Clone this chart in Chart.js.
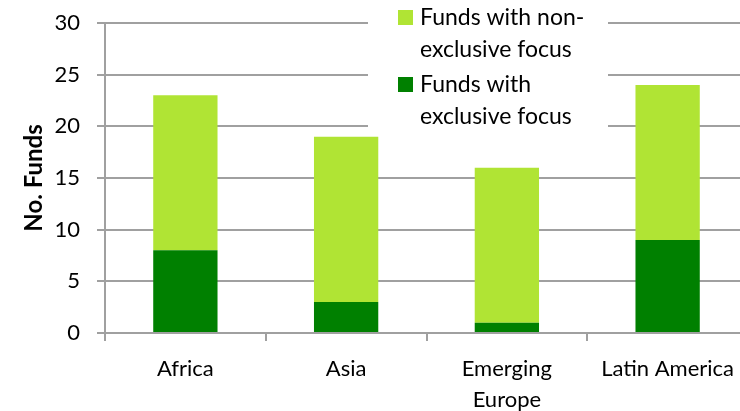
<!DOCTYPE html>
<html>
<head>
<meta charset="utf-8">
<script src="https://cdn.jsdelivr.net/npm/chart.js@4"></script>
<style>
  html, body { margin: 0; padding: 0; background: #fff; overflow: hidden; }
  #wrap { width: 760px; height: 411px; position: relative; }
</style>
</head>
<body>
<div id="wrap"><canvas id="funds"></canvas></div>
<script>
const regions = ['Africa', 'Asia', ['Emerging', 'Europe'], 'Latin America'];
const exclusive = [8, 3, 1, 9];
const nonExclusive = [15, 16, 15, 15];
const yTicks = [0, 5, 10, 15, 20, 25, 30];
// legend text is wrapped the same way as in the picture
const exclusiveLines = ['Funds with', 'exclusive focus'];
const nonExclusiveLines = ['Funds with non-', 'exclusive focus'];

const FONT = 'Lato, "Open Sans", sans-serif';
const GRID = '#a0a0a0';

function joinLines(lines) {
    return lines.join(' ').replace('- ', '-');
}

// legend boxed in white at the top right, drawn over the gridlines
const boxLegend = {
    id: 'boxLegend',
    afterDraw(chart) {
        const ctx = chart.ctx;
        ctx.save();
        ctx.fillStyle = '#fff';
        ctx.fillRect(368, 0, 240, 131);
        ctx.font = '23px ' + FONT;
        ctx.textBaseline = 'alphabetic';
        ctx.textAlign = 'left';
        const items = chart.data.datasets.slice().reverse();
        items.forEach((ds, i) => {
            const top = 10 + i * 67;
            ctx.fillStyle = ds.backgroundColor;
            ctx.fillRect(398, top, 15, 15);
            ctx.fillStyle = '#000';
            ds.legendLines.forEach((line, j) => {
                ctx.fillText(line, 420, top + 15 + j * 32);
            });
        });
        ctx.restore();
    }
};

new Chart(document.getElementById('funds'), {
    type: 'bar',
    data: {
        labels: regions,
        datasets: [
            {
                label: joinLines(exclusiveLines),
                legendLines: exclusiveLines,
                data: exclusive,
                backgroundColor: '#008000',
                barPercentage: 0.4,
                categoryPercentage: 1.0
            },
            {
                label: joinLines(nonExclusiveLines),
                legendLines: nonExclusiveLines,
                data: nonExclusive,
                backgroundColor: '#b0e434',
                barPercentage: 0.4,
                categoryPercentage: 1.0
            }
        ]
    },
    options: {
        responsive: true,
        maintainAspectRatio: false,
        animation: false,
        layout: { padding: { top: 23, right: 12, bottom: 0, left: 0 } },
        plugins: {
            legend: { display: false },
            tooltip: { enabled: true }
        },
        scales: {
            x: {
                stacked: true,
                grid: {
                    offset: true,
                    drawOnChartArea: false,
                    drawTicks: true,
                    tickLength: 8,
                    color: GRID,
                    lineWidth: 2
                },
                border: { display: true, color: GRID, width: 2 },
                ticks: {
                    color: '#000',
                    font: { family: FONT, size: 22, lineHeight: 1.4 },
                    padding: 13,
                    maxRotation: 0,
                    autoSkip: false
                },
                afterFit(scale) { scale.height = 78; }
            },
            y: {
                stacked: true,
                min: 0,
                max: 30,
                afterBuildTicks(scale) {
                    scale.ticks = yTicks.map(v => ({ value: v }));
                },
                grid: {
                    color: GRID,
                    lineWidth: 2,
                    tickLength: 8
                },
                border: { display: true, color: GRID, width: 2 },
                ticks: {
                    color: '#000',
                    font: { family: FONT, size: 22 },
                    padding: 17
                },
                title: {
                    display: true,
                    text: 'No. Funds',
                    color: '#000',
                    font: { family: FONT, size: 24, weight: 'bold' },
                    padding: { top: 20, bottom: 0 }
                },
                afterFit(scale) {
                    scale.width = 105;
                    // tick padding would otherwise push the plot top down
                    scale.paddingTop = 12;
                    scale.paddingBottom = 12;
                }
            }
        }
    },
    plugins: [boxLegend]
});
</script>
</body>
</html>
